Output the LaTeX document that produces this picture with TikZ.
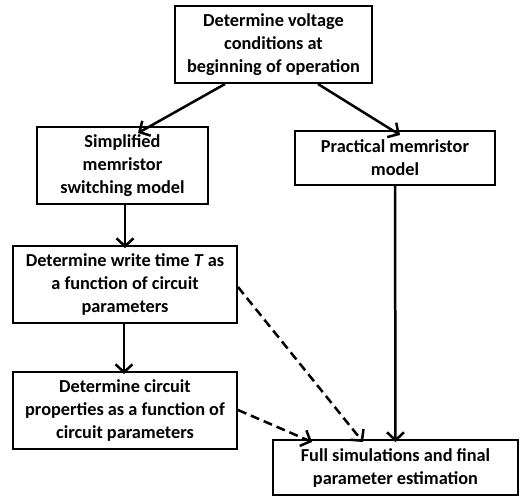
\documentclass[tikz,border=0pt]{standalone}
\usepackage{fontspec}
\setmainfont{Carlito}
\usetikzlibrary{arrows.meta}
\begin{document}
\begin{tikzpicture}[x=1pt,y=-1pt,
  box/.style={draw,line width=2pt,align=center,inner sep=0pt,
    font=\fontsize{18.3}{23}\selectfont\bfseries},
  arr/.style={line width=2.5pt,-{Straight Barb[length=8pt,width=17pt,line width=2.5pt]}},
  darr/.style={arr,dash pattern=on 9pt off 5pt}]
\useasboundingbox (0,0) rectangle (532,498);
\node[box,minimum width=197pt,minimum height=77pt] (top) at (273.5,44.5)
  {Determine voltage\\conditions at\\beginning of operation};
\node[box,minimum width=171pt,minimum height=77pt] (simp) at (122.5,165.5)
  {Simplified\\memristor\\switching model};
\node[box,minimum width=200pt,minimum height=54pt] (prac) at (395,158)
  {Practical memristor\\model};
\node[box,minimum width=224pt,minimum height=77pt] (write) at (125,284.5)
  {Determine write time \textit{T} as\\a function of circuit\\parameters};
\node[box,minimum width=224pt,minimum height=77pt] (prop) at (125,410.5)
  {Determine circuit\\properties as a function of\\circuit parameters};
\node[box,minimum width=245pt,minimum height=55pt] (full) at (395.5,467.5)
  {Full simulations and final\\parameter estimation};
\draw[arr] ([xshift=-48.5pt]top.south) -- ([xshift=15.5pt,yshift=-7pt]simp.north);
\draw[arr] ([xshift=44.5pt]top.south) -- ([xshift=5pt,yshift=-5pt]prac.north);
\draw[arr] ([xshift=2.5pt]simp.south) -- ([yshift=-3pt]write.north);
\draw[arr] ([xshift=-1pt]write.south) -- ([xshift=-1pt,yshift=-3pt]prop.north);
\draw[arr] (prac.south) -- ([yshift=-3pt]full.north);
\draw[darr] ([yshift=-2.5pt]write.east) -- ([xshift=-32.5pt,yshift=-3pt]full.north);
\draw[darr] ([yshift=0.5pt]prop.east) -- ([xshift=-83.5pt,yshift=-3pt]full.north);
\end{tikzpicture}
\end{document}
